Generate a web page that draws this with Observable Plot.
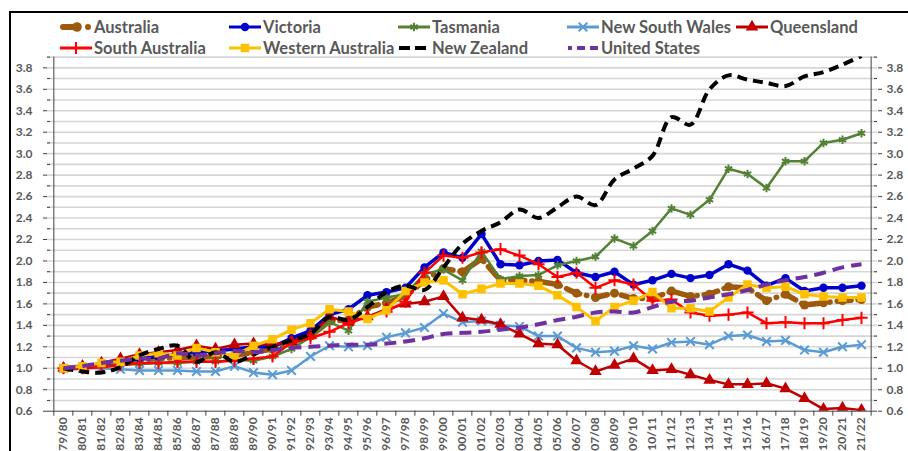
<!DOCTYPE html>
<html><head><meta charset="utf-8">
<script src="https://cdn.jsdelivr.net/npm/d3@7"></script>
<script src="https://cdn.jsdelivr.net/npm/@observablehq/plot@0.6"></script>
<style>
body{margin:0;background:#fff;width:908px;height:451px;overflow:hidden;position:relative;font-family:Lato,sans-serif}
#frame{position:absolute;left:9px;top:11px;width:920px;height:460px;border-left:2px solid #000;border-top:2px solid #000}
.item{position:absolute;display:flex;align-items:center;height:20px;font-size:16.5px;font-weight:700;color:#595959;white-space:nowrap}
.item svg{margin-right:2px;overflow:visible}
#chart{position:absolute;left:0;top:52px}
</style></head><body>
<div id="frame"></div>
<div id="legend"></div>
<div id="chart"></div>
<script>
const years = ["79/80","80/81","81/82","82/83","83/84","84/85","85/86","86/87","87/88","88/89","89/90","90/91","91/92","92/93","93/94","94/95","95/96","96/97","97/98","98/99","99/00","00/01","01/02","02/03","03/04","04/05","05/06","06/07","07/08","08/09","09/10","10/11","11/12","12/13","13/14","14/15","15/16","16/17","17/18","18/19","19/20","20/21","21/22"];

const australia = [1.00,1.01,1.03,1.06,1.08,1.09,1.10,1.10,1.11,1.12,1.15,1.18,1.24,1.30,1.44,1.45,1.57,1.61,1.67,1.82,1.93,1.90,2.02,1.82,1.82,1.81,1.78,1.70,1.66,1.70,1.65,1.65,1.72,1.67,1.69,1.76,1.75,1.63,1.69,1.59,1.61,1.63,1.64];
const victoria = [1.00,1.01,1.03,1.06,1.09,1.11,1.13,1.15,1.16,1.18,1.20,1.20,1.28,1.35,1.50,1.55,1.68,1.71,1.75,1.94,2.08,2.03,2.25,1.97,1.96,2.00,2.01,1.89,1.85,1.90,1.78,1.82,1.88,1.84,1.87,1.97,1.91,1.77,1.84,1.72,1.75,1.75,1.77];
const tasmania = [1.00,1.01,1.02,1.03,1.04,1.05,1.05,1.06,1.06,1.08,1.07,1.11,1.18,1.29,1.43,1.35,1.62,1.66,1.69,1.88,1.92,1.82,2.09,1.83,1.86,1.87,1.96,2.00,2.04,2.21,2.14,2.28,2.49,2.43,2.57,2.86,2.81,2.68,2.93,2.93,3.10,3.13,3.19];
const newSouthWales = [1.00,1.00,1.00,0.99,0.98,0.98,0.98,0.97,0.97,1.02,0.96,0.94,0.98,1.11,1.21,1.20,1.21,1.29,1.33,1.38,1.51,1.43,1.44,1.40,1.39,1.30,1.30,1.19,1.15,1.16,1.21,1.18,1.24,1.25,1.22,1.30,1.31,1.25,1.26,1.17,1.15,1.20,1.22];
const queensland = [1.00,1.02,1.05,1.09,1.13,1.15,1.17,1.21,1.18,1.22,1.23,1.22,1.25,1.31,1.48,1.43,1.48,1.55,1.60,1.62,1.67,1.47,1.45,1.41,1.32,1.23,1.22,1.07,0.97,1.03,1.09,0.98,0.99,0.94,0.89,0.85,0.85,0.86,0.81,0.72,0.62,0.63,0.61];
const southAustralia = [1.00,1.00,1.01,1.03,1.05,1.05,1.06,1.06,1.06,1.07,1.09,1.11,1.24,1.28,1.34,1.42,1.48,1.53,1.62,1.89,2.05,2.03,2.08,2.11,2.05,1.97,1.85,1.89,1.75,1.82,1.78,1.63,1.64,1.52,1.49,1.50,1.52,1.42,1.43,1.42,1.42,1.45,1.47];
const westernAustralia = [1.00,1.02,1.05,1.06,1.12,1.14,1.12,1.19,1.15,1.12,1.21,1.27,1.36,1.42,1.55,1.53,1.46,1.54,1.72,1.80,1.82,1.69,1.74,1.79,1.79,1.77,1.68,1.57,1.44,1.57,1.63,1.71,1.56,1.56,1.53,1.66,1.78,1.75,1.76,1.69,1.67,1.66,1.66];
const newZealand = [1.00,0.97,0.96,1.01,1.12,1.18,1.21,1.06,1.15,1.06,1.13,1.20,1.26,1.32,1.48,1.45,1.57,1.71,1.77,1.73,1.94,2.16,2.28,2.36,2.48,2.40,2.50,2.60,2.52,2.76,2.86,2.98,3.34,3.27,3.60,3.73,3.69,3.66,3.63,3.72,3.76,3.83,3.91];
const unitedStates = [1.00,1.02,1.05,1.07,1.09,1.09,1.14,1.12,1.14,1.16,1.15,1.17,1.19,1.20,1.21,1.22,1.22,1.23,1.25,1.28,1.32,1.33,1.34,1.36,1.38,1.41,1.45,1.48,1.52,1.53,1.52,1.57,1.62,1.63,1.66,1.69,1.73,1.78,1.82,1.85,1.89,1.94,1.97];

const majorTicks = [0.6,0.8,1.0,1.2,1.4,1.6,1.8,2.0,2.2,2.4,2.6,2.8,3.0,3.2,3.4,3.6,3.8];
const minorTicks = [0.7,0.9,1.1,1.3,1.5,1.7,1.9,2.1,2.3,2.5,2.7,2.9,3.1,3.3,3.5,3.7,3.9];
const gridTicks = majorTicks.concat(minorTicks).filter(d => d > 0.6);

const series = [
  {name:"Australia", values:australia, color:"#9E5A0C", width:5.5, dash:"14,7,0.5,7", cap:"round", symbol:"circle", r:4.5, filled:true},
  {name:"Victoria", values:victoria, color:"#0000CC", width:3.5, symbol:"circle", r:4.2, filled:true},
  {name:"Tasmania", values:tasmania, color:"#548235", width:2.5, symbol:"asterisk", r:4, filled:false},
  {name:"New South Wales", values:newSouthWales, color:"#5B9BD5", width:2.5, symbol:"times", r:4, filled:false},
  {name:"Queensland", values:queensland, color:"#C00000", width:2.5, symbol:"triangle", r:4.6, filled:true},
  {name:"South Australia", values:southAustralia, color:"#FF0000", width:2.5, symbol:"plus", r:4, filled:false},
  {name:"Western Australia", values:westernAustralia, color:"#FFC000", width:3, symbol:"square", r:4.8, filled:true},
  {name:"New Zealand", values:newZealand, color:"#000000", width:4, dash:"10,6", curve:"catmull-rom"},
  {name:"United States", values:unitedStates, color:"#7030A0", width:4, dash:"12,7", curve:"catmull-rom"}
];

const W = 908, H = 399, mL = 47, mR = 31, mT = 4.6, mB = 40.3;
const plotW = W - mL - mR, plotH = H - mT - mB;
const step = plotW / years.length;
const axisColor = "#404040", textColor = "#595959";

const marks = [
  Plot.ruleY(gridTicks, {stroke:"#D6D6D6", strokeWidth:1.6}),
];
for (const s of series) {
  const data = years.map((y, i) => ({year: y, value: s.values[i]}));
  marks.push(Plot.line(data, {x:"year", y:"value", stroke:s.color, strokeWidth:s.width,
    strokeDasharray:s.dash, strokeLinecap:s.cap || "butt", curve:s.curve || "linear", clip:true}));
  if (s.symbol) {
    marks.push(Plot.dot(data, {x:"year", y:"value", symbol:s.symbol, r:s.r,
      fill: s.filled ? s.color : "none", stroke: s.filled ? "none" : s.color, strokeWidth:2, clip:true}));
  }
}
marks.push(
  Plot.ruleY([0.6], {stroke:axisColor, strokeWidth:1}),
  Plot.ruleX([years[0]], {dx:-step/2, stroke:axisColor, strokeWidth:1}),
  Plot.ruleX([years[years.length-1]], {dx:step/2, stroke:axisColor, strokeWidth:1}),
  Plot.ruleX(years, {dx:-step/2, insetTop:plotH, insetBottom:-5, stroke:axisColor}),
  Plot.ruleX([years[years.length-1]], {dx:step/2, insetTop:plotH, insetBottom:-5, stroke:axisColor}),
  Plot.ruleY(minorTicks, {insetRight:plotW-3, stroke:axisColor}),
  Plot.ruleY(minorTicks, {insetLeft:plotW-3, stroke:axisColor}),
  Plot.axisY({anchor:"left", ticks:majorTicks, tickSize:4, tickPadding:11, tickFormat:d3.format(".1f"),
    fontSize:12, fontWeight:"bold", fill:textColor, stroke:axisColor, label:null}),
  Plot.axisY({anchor:"right", ticks:majorTicks, tickSize:4, tickPadding:5, tickFormat:d3.format(".1f"),
    fontSize:12, fontWeight:"bold", fill:textColor, stroke:axisColor, label:null}),
  Plot.axisX({tickSize:0, tickRotate:-90, tickPadding:6, fontSize:12, fontWeight:"bold", fill:textColor, label:null})
);

const chart = Plot.plot({
  width:W, height:H, marginLeft:mL, marginRight:mR, marginTop:mT, marginBottom:mB,
  x:{type:"point", domain:years, padding:0.5, label:null},
  y:{domain:[0.6, 3.9], label:null},
  style:{fontFamily:"Lato, sans-serif", background:"transparent", overflow:"visible"},
  marks
});
document.getElementById("chart").appendChild(chart);

// Legend
const legendPos = {
  "Australia":[0,0], "Victoria":[0,1], "Tasmania":[0,2], "New South Wales":[0,3], "Queensland":[0,4],
  "South Australia":[1,0], "Western Australia":[1,1], "New Zealand":[1,2], "United States":[1,3]
};
const colX = [94, 263, 432, 601, 770], rowY = [27, 48];
const symbolMap = {circle:d3.symbolCircle, triangle:d3.symbolTriangle, square:d3.symbolSquare,
  times:d3.symbolTimes, plus:d3.symbolPlus, asterisk:d3.symbolAsterisk};
const legend = document.getElementById("legend");
for (const s of series) {
  const [r, c] = legendPos[s.name];
  const item = document.createElement("div");
  item.className = "item";
  item.style.left = (colX[c] - 34) + "px";
  item.style.top = (rowY[r] - 10) + "px";
  const svg = d3.create("svg").attr("width", 32).attr("height", 20);
  if (s.name === "Australia") {
    svg.append("line").attr("x1",3).attr("x2",16).attr("y1",10).attr("y2",10)
      .attr("stroke",s.color).attr("stroke-width",6).attr("stroke-linecap","round");
    svg.append("circle").attr("cx",17).attr("cy",10).attr("r",4.8).attr("fill",s.color);
    svg.append("circle").attr("cx",28).attr("cy",10).attr("r",3).attr("fill",s.color);
  } else {
    svg.append("line").attr("x1", s.dash ? 1 : 0).attr("x2",32).attr("y1",10).attr("y2",10)
      .attr("stroke",s.color).attr("stroke-width",s.dash ? 4 : 3)
      .attr("stroke-dasharray", s.dash ? (s.name === "New Zealand" ? "11,5" : "8,5") : null)
      .attr("stroke-dashoffset", s.name === "United States" ? 4 : 0);
    if (s.symbol) {
      const size = Math.PI * s.r * s.r;
      svg.append("path").attr("transform","translate(16,10)")
        .attr("d", d3.symbol(symbolMap[s.symbol], size)())
        .attr("fill", s.filled ? s.color : "none")
        .attr("stroke", s.filled ? "none" : s.color).attr("stroke-width", 2);
    }
  }
  item.appendChild(svg.node());
  const span = document.createElement("span");
  span.textContent = s.name;
  item.appendChild(span);
  legend.appendChild(item);
}
</script></body></html>
